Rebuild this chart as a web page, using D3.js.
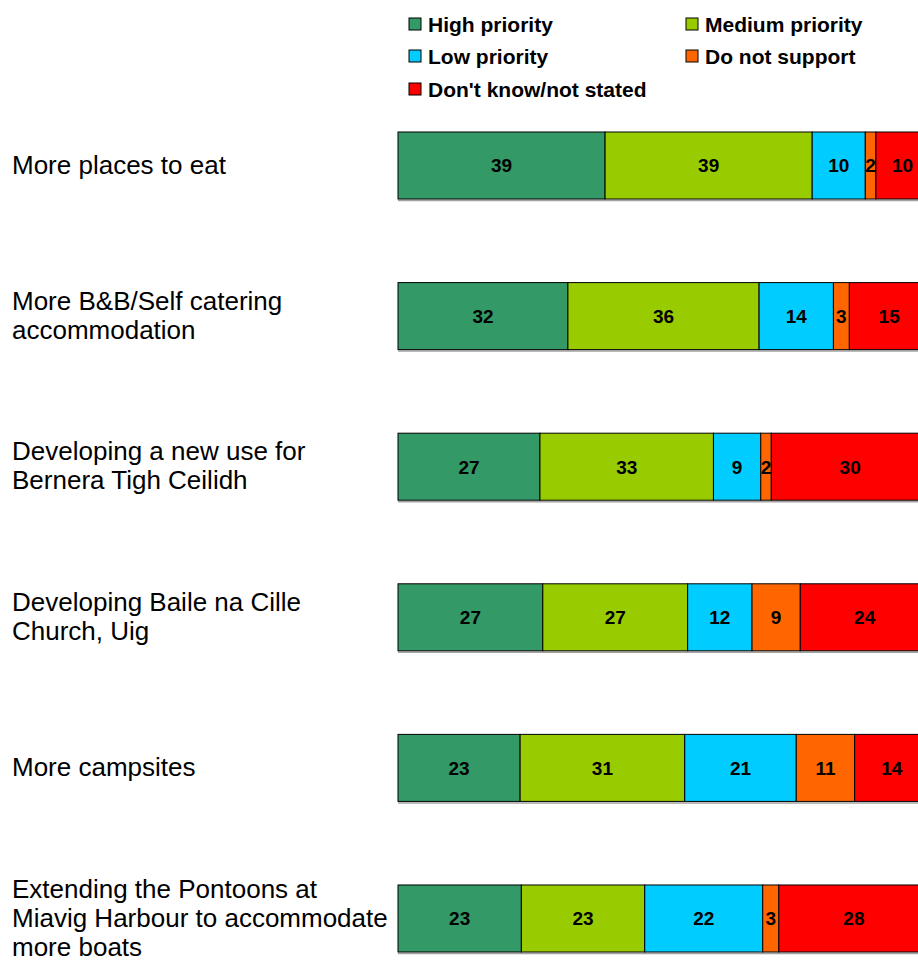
<!DOCTYPE html>
<html>
<head>
<meta charset="utf-8">
<script src="https://cdn.jsdelivr.net/npm/d3@7"></script>
<style>
  html, body { margin: 0; padding: 0; background: #fff; }
  svg { display: block; font-family: "Liberation Sans", Arial, sans-serif; }
</style>
</head>
<body>
<svg id="chart" width="918" height="960"></svg>
<script>
const categories = [
  ["More places to eat"],
  ["More B&B/Self catering", "accommodation"],
  ["Developing a new use for", "Bernera Tigh Ceilidh"],
  ["Developing Baile na Cille", "Church, Uig"],
  ["More campsites"],
  ["Extending the Pontoons at", "Miavig Harbour to accommodate", "more boats"]
];
const seriesNames = ["High priority", "Medium priority", "Low priority", "Do not support", "Don't know/not stated"];
const seriesColors = ["#339966", "#99CC00", "#00CCFF", "#FF6600", "#FF0000"];
const highPriority   = [39, 32, 27, 27, 23, 23];
const mediumPriority = [39, 36, 33, 27, 31, 23];
const lowPriority    = [10, 14, 9, 12, 21, 22];
const doNotSupport   = [2, 3, 2, 9, 11, 3];
const dontKnow       = [10, 15, 30, 24, 14, 28];

const seriesValues = [highPriority, mediumPriority, lowPriority, doNotSupport, dontKnow];
const keys = categories.map((c, i) => "c" + i);

const rows = categories.map((c, i) => {
  const row = { key: keys[i] };
  const total = d3.sum(seriesValues, s => s[i]);
  seriesNames.forEach((n, j) => { row[n] = seriesValues[j][i] / total; row[n + "_raw"] = seriesValues[j][i]; });
  return row;
});

const svg = d3.select("#chart");
const x = d3.scaleLinear().domain([0, 1]).range([398, 929]);
const y = d3.scaleBand().domain(keys).range([132, 952]).paddingInner(0.555).paddingOuter(0);

const stacked = d3.stack().keys(seriesNames)(rows);

const g = svg.append("g");
// bottom shadow line
g.selectAll("line.shadow").data(keys).join("line")
  .attr("x1", x(0)).attr("x2", x(1) + 2)
  .attr("y1", d => y(d) + y.bandwidth() + 1.5)
  .attr("y2", d => y(d) + y.bandwidth() + 1.5)
  .attr("stroke", "#666").attr("stroke-width", 1.5).attr("opacity", 0.6);

stacked.forEach((layer, j) => {
  g.append("g").attr("fill", seriesColors[j])
    .selectAll("rect").data(layer).join("rect")
    .attr("x", d => x(d[0]))
    .attr("y", d => y(d.data.key))
    .attr("width", d => x(d[1]) - x(d[0]))
    .attr("height", y.bandwidth())
    .attr("stroke", "#000")
    .attr("stroke-width", 1);
});

stacked.forEach((layer, j) => {
  g.append("g").selectAll("text").data(layer).join("text")
    .attr("x", d => (x(d[0]) + x(d[1])) / 2)
    .attr("y", d => y(d.data.key) + y.bandwidth() / 2)
    .attr("dy", "0.36em")
    .attr("text-anchor", "middle")
    .attr("font-size", 19)
    .attr("font-weight", "bold")
    .attr("fill", "#000")
    .text(d => d.data[seriesNames[j] + "_raw"]);
});

// category labels
const lh = 29;
categories.forEach((lines, i) => {
  const cy = y(keys[i]) + y.bandwidth() / 2;
  const t = svg.append("text").attr("font-size", 26).attr("fill", "#000");
  lines.forEach((ln, k) => {
    t.append("tspan").attr("x", 12)
      .attr("y", cy + (k - (lines.length - 1) / 2) * lh)
      .attr("dy", "0.31em")
      .text(ln);
  });
});

// legend
const legendPos = [[409, 24], [686, 24], [409, 56], [686, 56], [409, 89]];
const leg = svg.append("g");
seriesNames.forEach((n, j) => {
  const [lx, ly] = legendPos[j];
  leg.append("rect").attr("x", lx).attr("y", ly - 6).attr("width", 12).attr("height", 12)
    .attr("fill", seriesColors[j]).attr("stroke", "#000").attr("stroke-width", 1);
  leg.append("text").attr("x", lx + 19).attr("y", ly).attr("dy", "0.36em")
    .attr("font-size", 21).attr("font-weight", "bold").text(n);
});
</script>
</body>
</html>
